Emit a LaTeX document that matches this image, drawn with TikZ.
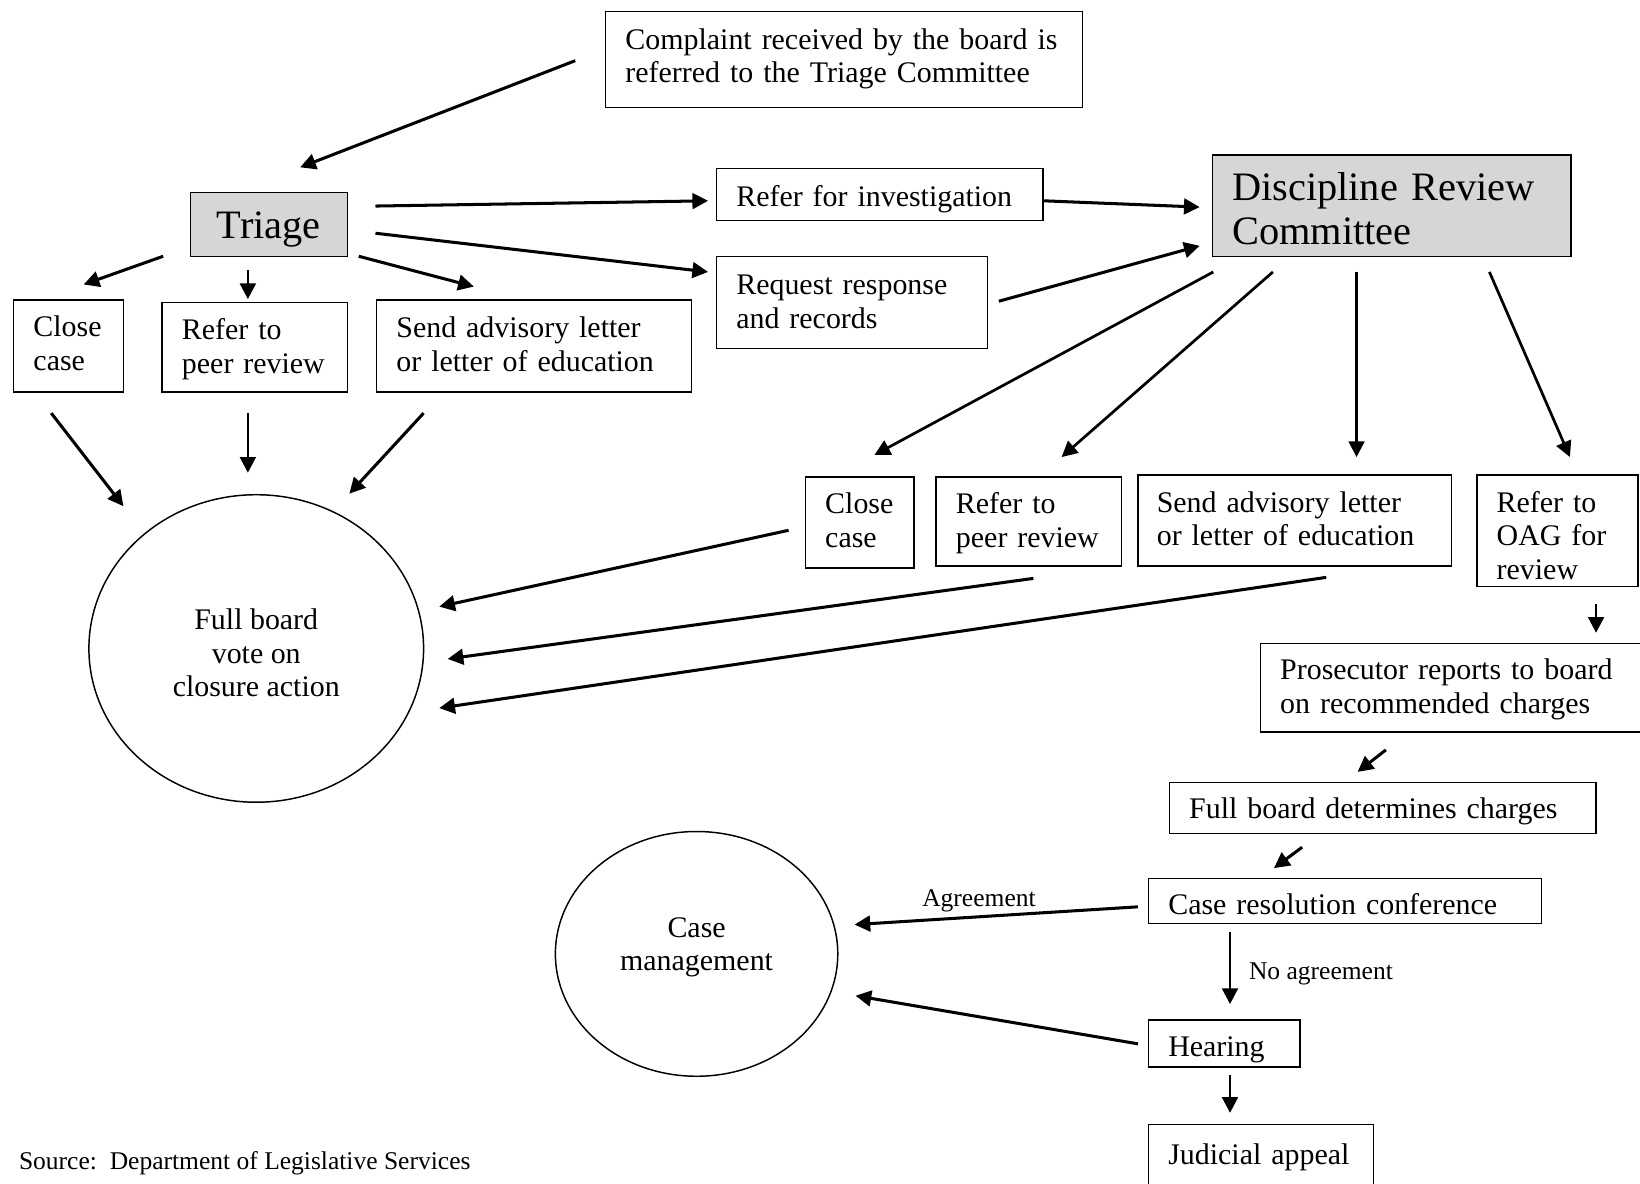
\documentclass[tikz,border=0pt]{standalone}
\usepackage{fontspec}
\setmainfont{Liberation Serif}
\usetikzlibrary{shapes.geometric,arrows.meta}
\newcommand\stk[1]{\begin{tabular}[t]{@{}c@{}}#1\end{tabular}}
\begin{document}
\begin{tikzpicture}[x=1pt,y=-1pt,
  box/.style={draw, line width=1.4pt, inner xsep=19pt, inner ysep=0pt, align=left, font=\fontsize{28.6}{32}\selectfont},
  gbox/.style={box, fill=black!16, font=\fontsize{38.6}{42}\selectfont},
  oval/.style={draw, ellipse, line width=1.4pt, inner sep=0pt, font=\fontsize{28.6}{32}\selectfont},
  up/.style={text height=0pt, text depth=#1},
  dn/.style={text height=#1, text depth=0pt},
  arr/.style={line width=2.9pt, -{Triangle[length=15pt,width=15pt]}},
  tarr/.style={line width=2.6pt, -{Triangle[length=15pt,width=15pt]}},
  lbl/.style={font=\fontsize{24.4}{28}\selectfont, inner sep=0pt}]
\useasboundingbox (0,0) rectangle (1568,1132);
\fill[white] (0,0) rectangle (1568,1132);

% boxes
\node[box, up=20pt, text width=418pt, minimum height=92pt] (complaint) at (807,57) {Complaint received by the board is\\referred to the Triage Committee};
\node[gbox, dn=28pt, align=center, text width=112pt, minimum height=61pt] (triage) at (257,214.5) {Triage};
\node[box, dn=22pt, text width=274pt, minimum height=50pt] (refinv) at (841,186) {Refer for investigation};
\node[box, up=14pt, text width=221pt, minimum height=88pt] (request) at (814.5,289) {Request response\\and records};
\node[gbox, up=10pt, text width=305pt, minimum height=97pt] (drc) at (1330.5,196.5) {Discipline Review\\Committee};

\node[box, up=18pt, text width=67pt, minimum height=88pt] (closeL) at (65.5,331) {Close\\case};
\node[box, up=14pt, text width=139pt, minimum height=86pt] (referL) at (243.5,332) {Refer to\\peer review};
\node[box, up=16pt, text width=263pt, minimum height=88pt] (sendL) at (510.5,331) {Send advisory letter\\or letter of education};

\node[oval, up=36pt, minimum width=320pt, minimum height=294pt] (fbvote) at (245,620) {\stk{Full board\\vote on\\closure action}};

\node[box, up=17pt, text width=66pt, minimum height=87pt] (closeR) at (822,499.5) {Close\\case};
\node[box, up=15pt, text width=139pt, minimum height=85pt] (referR) at (983.5,498.5) {Refer to\\peer review};
\node[box, up=15pt, inner xsep=18pt, text width=264pt, minimum height=87pt] (sendR) at (1238,497.5) {Send advisory letter\\or letter of education};
\node[box, up=35pt, text width=116pt, minimum height=107pt] (oag) at (1489,507.5) {Refer to\\OAG for\\review};

\node[box, up=15pt, text width=329pt, minimum height=85pt] (pros) at (1388.5,657.5) {Prosecutor reports to board\\on recommended charges};
\node[box, dn=21pt, text width=370pt, minimum height=49pt] (fbd) at (1322,772.5) {Full board determines charges};
\node[box, dn=25pt, text width=338pt, minimum height=43pt] (crc) at (1286,861.5) {Case resolution conference};
\node[box, dn=25pt, text width=107pt, minimum height=45pt] (hearing) at (1170.5,997.5) {Hearing};
\node[box, dn=12pt, text width=177pt, minimum height=64pt] (judicial) at (1205.5,1107) {Judicial appeal};

\node[oval, up=32pt, minimum width=270pt, minimum height=234pt] (cm) at (666,912) {\stk{Case\\management}};

% labels
\node[lbl] (agr) at (936,861) {Agreement};
\node[lbl, anchor=west] (noagr) at (1194,931) {No agreement};
\node[lbl, anchor=west] (src) at (18,1112) {Source:\ \ Department of Legislative Services};

% arrow end points
\coordinate (c1s) at (550,58);   \coordinate (c1e) at (287,160);
\coordinate (t1s) at (359,197);  \coordinate (t1e) at (677,192);
\coordinate (t2s) at (359,223);  \coordinate (t2e) at (677,260);
\coordinate (r1s) at (998,192);  \coordinate (r1e) at (1147,198);
\coordinate (r2s) at (955,288);  \coordinate (r2e) at (1147,235);
\coordinate (t3s) at (156,245);  \coordinate (t3e) at (80,272);
\coordinate (t4s) at (237,258);  \coordinate (t4e) at (237,286);
\coordinate (t5s) at (343,245);  \coordinate (t5e) at (453,274);
\coordinate (l1s) at (49,395);   \coordinate (l1e) at (118,484);
\coordinate (l2s) at (237,395);  \coordinate (l2e) at (237,452);
\coordinate (l3s) at (405,395);  \coordinate (l3e) at (334,472);
\coordinate (d1s) at (1160,260); \coordinate (d1e) at (836,435);
\coordinate (d2s) at (1217,260); \coordinate (d2e) at (1015,437);
\coordinate (d3s) at (1297,260); \coordinate (d3e) at (1297,437);
\coordinate (d4s) at (1424,260); \coordinate (d4e) at (1501,437);
\coordinate (m1s) at (754,507);  \coordinate (m1e) at (420,580);
\coordinate (m2s) at (988,553);  \coordinate (m2e) at (428,630);
\coordinate (m3s) at (1268,552); \coordinate (m3e) at (420,677);
\coordinate (o1s) at (1526,577); \coordinate (o1e) at (1526,605);
\coordinate (p1s) at (1325,717); \coordinate (p1e) at (1298,738);
\coordinate (f1s) at (1245,810); \coordinate (f1e) at (1218,830);
\coordinate (k1s) at (1088,867); \coordinate (k1e) at (817,884);
\coordinate (k2s) at (1176,891); \coordinate (k2e) at (1176,960);
\coordinate (h1s) at (1088,998); \coordinate (h1e) at (818,952);
\coordinate (h2s) at (1176,1028);\coordinate (h2e) at (1176,1064);

% connectors
\draw[arr] (c1s) -- (c1e);
\draw[arr] (t1s) -- (t1e);
\draw[arr] (t2s) -- (t2e);
\draw[arr] (r1s) -- (r1e);
\draw[arr] (r2s) -- (r2e);
\draw[arr] (t3s) -- (t3e);
\draw[tarr] (t4s) -- (t4e);
\draw[arr] (t5s) -- (t5e);
\draw[arr] (l1s) -- (l1e);
\draw[tarr] (l2s) -- (l2e);
\draw[arr] (l3s) -- (l3e);
\draw[tarr] (d1s) -- (d1e);
\draw[tarr] (d2s) -- (d2e);
\draw[tarr] (d3s) -- (d3e);
\draw[tarr] (d4s) -- (d4e);
\draw[arr] (m1s) -- (m1e);
\draw[arr] (m2s) -- (m2e);
\draw[arr] (m3s) -- (m3e);
\draw[tarr] (o1s) -- (o1e);
\draw[arr] (p1s) -- (p1e);
\draw[arr] (f1s) -- (f1e);
\draw[arr] (k1s) -- (k1e);
\draw[tarr] (k2s) -- (k2e);
\draw[arr] (h1s) -- (h1e);
\draw[tarr] (h2s) -- (h2e);
\end{tikzpicture}
\end{document}
